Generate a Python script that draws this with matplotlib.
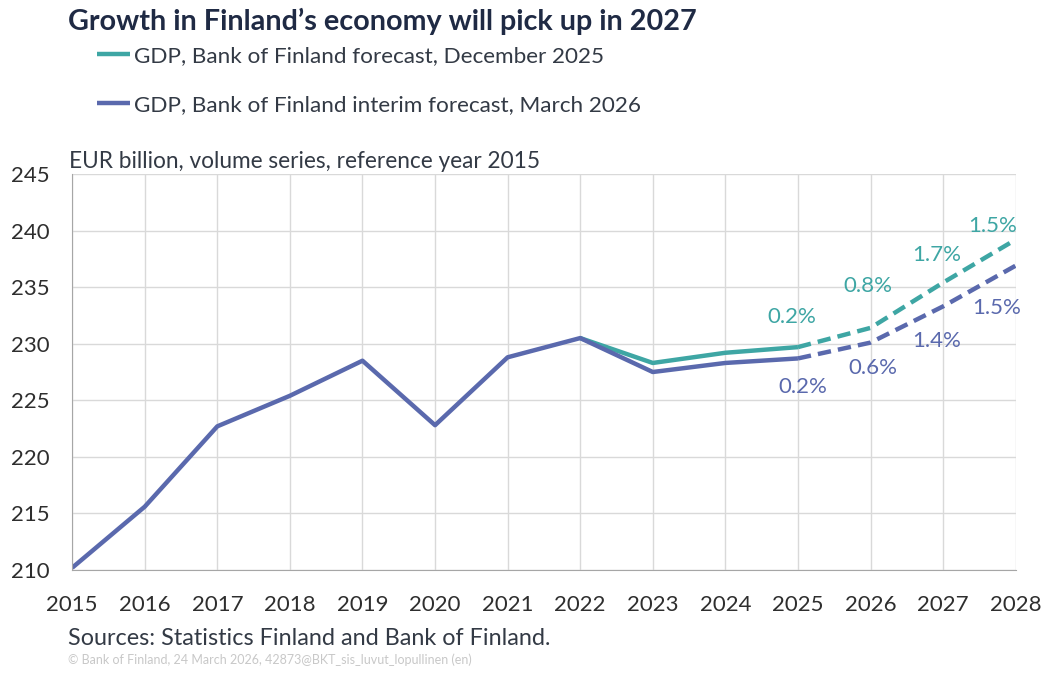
import numpy as np
import matplotlib.pyplot as plt

plt.rcParams['font.family'] = ['Lato', 'DejaVu Sans']

years = list(range(2015, 2029))
# March 2026 interim forecast (history + forecast)
gdp_mar = [210.2, 215.6, 222.7, 225.4, 228.5, 222.8, 228.8, 230.5,
           227.5, 228.3, 228.7, 230.1, 233.3, 236.9]
# December 2025 forecast, from 2022 on
dec_years = list(range(2022, 2029))
gdp_dec = [230.5, 228.3, 229.2, 229.7, 231.4, 235.4, 239.2]

growth_years = [2025, 2026, 2027, 2028]
growth_dec = ['0.2%', '0.8%', '1.7%', '1.5%']
growth_mar = ['0.2%', '0.6%', '1.4%', '1.5%']

teal = '#3ea6a4'
purple = '#5a69ad'
text_col = '#333a45'
last_actual = 2025

fig = plt.figure(figsize=(10.46, 6.77), dpi=100)
ax = fig.add_axes([0.069, 0.158, 0.902, 0.585])

yrs = np.array(years)
mar = np.array(gdp_mar)
dy = np.array(dec_years)
dec = np.array(gdp_dec)

l1, = ax.plot(dy[dy <= last_actual], dec[dy <= last_actual], color=teal, lw=3.2,
              label='GDP, Bank of Finland forecast, December 2025', solid_capstyle='butt')
ax.plot(dy[dy >= last_actual], dec[dy >= last_actual], color=teal, lw=3.2,
        ls=(0, (3, 1.6)))
l2, = ax.plot(yrs[yrs <= last_actual], mar[yrs <= last_actual], color=purple, lw=3.2,
              label='GDP, Bank of Finland interim forecast, March 2026', solid_capstyle='butt')
ax.plot(yrs[yrs >= last_actual], mar[yrs >= last_actual], color=purple, lw=3.2,
        ls=(0, (3, 1.6)))

# growth labels, offsets in pixels from the data point
dec_off = {2025: (-6, 30), 2026: (-3, 42), 2027: (-6, 28), 2028: (-23, 14)}
mar_off = {2025: (5, -29), 2026: (2, -25), 2027: (-6, -35), 2028: (-19, -42)}
for y, t in zip(growth_years, growth_dec):
    v = gdp_dec[dec_years.index(y)]
    ax.annotate(t, (y, v), xytext=dec_off[y], textcoords='offset pixels',
                ha='center', va='center', color=teal, fontsize=16)
for y, t in zip(growth_years, growth_mar):
    v = gdp_mar[years.index(y)]
    ax.annotate(t, (y, v), xytext=mar_off[y], textcoords='offset pixels',
                ha='center', va='center', color=purple, fontsize=16)

ax.set_xlim(2015, 2028)
ax.set_ylim(210, 245)
ax.set_xticks(years)
ax.set_yticks(range(210, 246, 5))
ax.grid(True, color='#d9d9d9', lw=1)
ax.set_axisbelow(True)
for s in ['top', 'right']:
    ax.spines[s].set_visible(False)
for s in ['left', 'bottom']:
    ax.spines[s].set_color('#a6a6a6')
ax.tick_params(length=0, labelsize=16, colors='#2e2e2e')
ax.tick_params(axis='x', pad=18)
ax.tick_params(axis='y', pad=16)

fig.text(0.065, 0.968, 'Growth in Finland\u2019s economy will pick up in 2027',
         fontsize=20.7, fontweight='bold', color='#1f2a44', va='center')
fig.legend(handles=[l1, l2], loc='upper left', bbox_to_anchor=(0.073, 0.962),
           frameon=False, fontsize=16.2, handlelength=1.5, handletextpad=0.15,
           labelspacing=1.3, labelcolor=text_col)
fig.text(0.066, 0.761, 'EUR billion, volume series, reference year 2015',
         fontsize=16.3, color=text_col, va='center')
fig.text(0.065, 0.057, 'Sources: Statistics Finland and Bank of Finland.',
         fontsize=16.8, color=text_col, va='center')
fig.text(0.065, 0.025, '\u00a9 Bank of Finland, 24 March 2026, 42873@BKT_sis_luvut_lopullinen (en)',
         fontsize=9, color='#c8c8c8', va='center')

fig.savefig('out.png', dpi=100)
